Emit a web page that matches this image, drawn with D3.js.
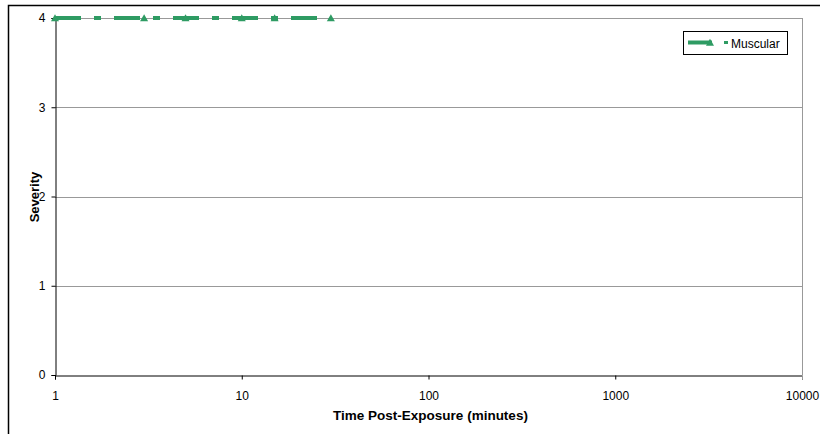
<!DOCTYPE html>
<html><head><meta charset="utf-8">
<script src="https://cdn.jsdelivr.net/npm/d3@7/dist/d3.min.js"></script>
<style>body{margin:0;background:#fff}svg{display:block}text{font-family:"Liberation Sans",Arial,sans-serif}</style>
</head><body><svg id="c" width="820" height="434"></svg>
<script>
const times = [1, 3, 5, 10, 15, 30];
const severity = [4, 4, 4, 4, 4, 4];
const seriesName = "Muscular";
const xTicks = [1, 10, 100, 1000, 10000];
const yTicks = [0, 1, 2, 3, 4];

const svg = d3.select("#c");
const L = 55, R = 802, T = 18, B = 375;
const x = d3.scaleLog().domain([1, 10000]).range([L, R]);
const y = d3.scaleLinear().domain([0, 4]).range([B, T]);
const green = "#2E9B63";

// outer chart border
svg.append("path").attr("d", "M8.5,440 V5.5 H830").attr("fill","none").attr("stroke","#000").attr("stroke-width",1.5);

// gridlines
svg.append("g").selectAll("line").data(yTicks.filter(d=>d>0)).join("line")
  .attr("x1", L).attr("x2", R).attr("y1", d=>Math.round(y(d))+0.5).attr("y2", d=>Math.round(y(d))+0.5)
  .attr("stroke", "#999").attr("stroke-width", 1);
// right edge of plot area
svg.append("line").attr("x1", R+0.5).attr("x2", R+0.5).attr("y1", T).attr("y2", B).attr("stroke","#999");

// axes
const yAxis = svg.append("g").attr("transform", `translate(${L+0.5},0)`)
  .call(d3.axisLeft(y).tickValues(yTicks).tickSize(4).tickPadding(6).tickFormat(d3.format("d")));
const xAxis = svg.append("g").attr("transform", `translate(0,${B+0.5})`)
  .call(d3.axisBottom(x).tickValues(xTicks).tickSize(4).tickPadding(12).tickFormat(d3.format("d")));
[yAxis, xAxis].forEach(a => {
  a.select(".domain").attr("stroke", "#000");
  a.selectAll(".tick line").attr("stroke", "#000");
  a.selectAll("text").attr("font-size", 12).attr("fill", "#000").style("font-family","'Liberation Sans',Arial,sans-serif");
});
xAxis.selectAll(".tick").filter(d=>d===10000).select("line").attr("stroke","#999");

// series line
const line = d3.line().x((d,i)=>x(times[i])).y(d=>y(d));
svg.append("path").datum(severity).attr("d", line)
  .attr("fill","none").attr("stroke", green).attr("stroke-width", 4)
  .attr("stroke-dasharray", "26,13,7,13");
// triangle markers
const tri = d3.symbol().type(d3.symbolTriangle).size(28);
svg.append("g").selectAll("path").data(severity).join("path")
  .attr("d", tri).attr("fill", green)
  .attr("transform", (d,i)=>`translate(${x(times[i])},${y(d)+1})`);

// axis titles
svg.append("text").attr("transform","translate(39,197) rotate(-90)").attr("text-anchor","middle")
  .attr("font-size",13).attr("font-weight","bold").text("Severity");
svg.append("text").attr("x", (L+R)/2+2).attr("y", 420).attr("text-anchor","middle")
  .attr("font-size",13.5).attr("font-weight","bold").text("Time Post-Exposure (minutes)");

// legend
const lg = svg.append("g");
lg.append("rect").attr("x",683.5).attr("y",31.5).attr("width",104).attr("height",23)
  .attr("fill","#fff").attr("stroke","#000").attr("stroke-width",1);
lg.append("line").attr("x1",688).attr("x2",712).attr("y1",42.5).attr("y2",42.5).attr("stroke",green).attr("stroke-width",4);
lg.append("path").attr("d", tri).attr("fill", green).attr("transform","translate(710,43.5)");
lg.append("rect").attr("x",724).attr("y",41).attr("width",4).attr("height",3).attr("fill",green);
lg.append("text").attr("x",731).attr("y",47.5).attr("font-size",12).text(seriesName);
</script></body></html>
